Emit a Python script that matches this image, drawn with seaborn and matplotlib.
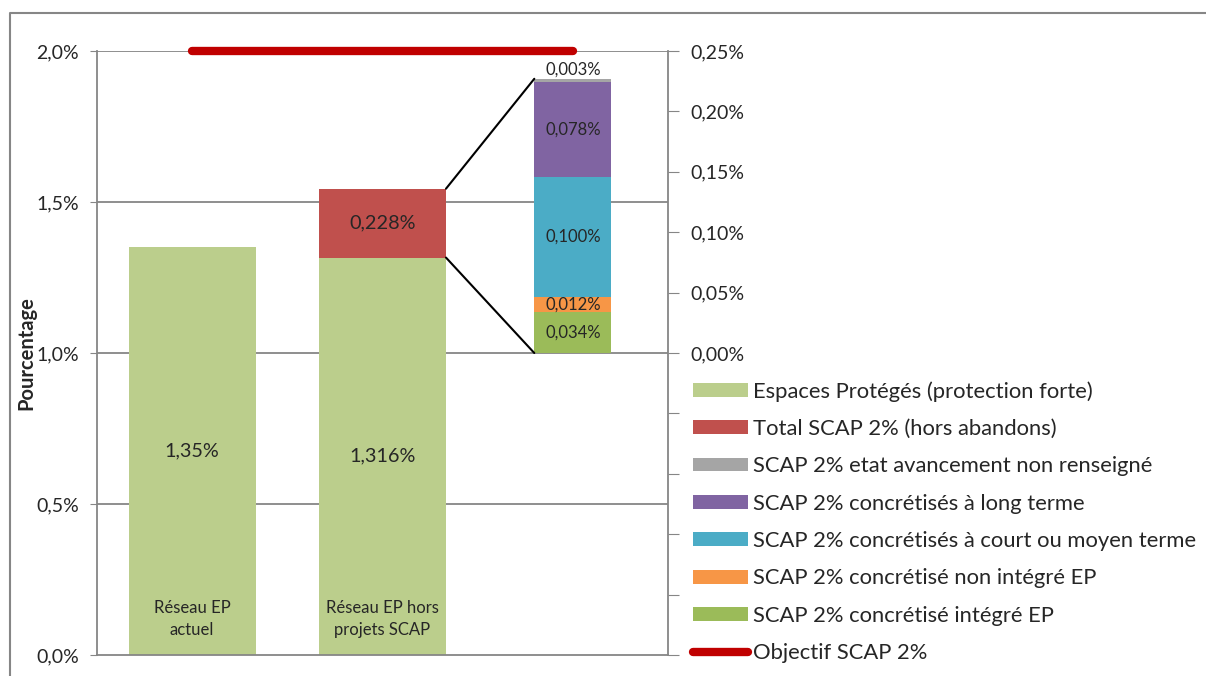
import numpy as np
import pandas as pd
import matplotlib.pyplot as plt
import seaborn as sns
from matplotlib.patches import Patch, ConnectionPatch
from matplotlib.lines import Line2D

sns.set_style('white')
plt.rcParams['font.family'] = ['Lato', 'DejaVu Sans']

# %% Data
categories = ['Réseau EP\nactuel', 'Réseau EP hors\nprojets SCAP', 'Détail SCAP']
ep_values = [1.35, 1.316]              # left axis, %
scap_total = 0.228                     # stacked on bar 2
objectif = [2.0, 2.0, 2.0]

detail_labels = ['SCAP 2% concrétisé intégré EP',
                 'SCAP 2% concrétisé non intégré EP',
                 'SCAP 2% concrétisés à court ou moyen terme',
                 'SCAP 2% concrétisés à long terme',
                 'SCAP 2% etat avancement non renseigné']
detail_values = [0.034, 0.012, 0.100, 0.078, 0.003]   # right axis, %
detail_text = ['0,034%', '0,012%', '0,100%', '0,078%', '0,003%']

c_ep = '#BBCE8C'
c_total = '#C0504D'
c_detail = ['#9BBB59', '#F79646', '#4BACC6', '#8064A2', '#A5A5A5']
c_obj = '#C00000'
grid_c = '#868686'

# %% Figure
fig = plt.figure(figsize=(12.06, 6.76), dpi=100)
ax = fig.add_axes([97 / 1206, 21 / 676, 571 / 1206, 604 / 676])
W = 0.667

df = pd.DataFrame({'cat': categories[:2], 'val': ep_values})
sns.barplot(data=df, x='cat', y='val', order=categories, color=c_ep,
            width=W, saturation=1, linewidth=0, ax=ax, zorder=2)
ax.bar(1, scap_total, bottom=ep_values[1], width=W, color=c_total, lw=0, zorder=2)

ax.plot([0, 1, 2], objectif, color=c_obj, lw=6, solid_capstyle='round',
        clip_on=False, zorder=5)

ax.set_xlim(-0.5, 2.5)
ax.set_ylim(0, 2.0)
ax.set_yticks(np.arange(0, 2.01, 0.5))
ax.set_yticklabels([f'{v:.1f}%'.replace('.', ',') for v in np.arange(0, 2.01, 0.5)])
ax.set_xticks([])
ax.set_xlabel('')
ax.set_ylabel('Pourcentage', fontsize=14.5, fontweight='bold', labelpad=0)
for v in np.arange(0.5, 2.01, 0.5):
    ax.axhline(v, color=grid_c, lw=1.3, zorder=1)
for s in ['top', 'right']:
    ax.spines[s].set_visible(False)
for s in ['left', 'bottom']:
    ax.spines[s].set_color(grid_c)
    ax.spines[s].set_linewidth(1.3)
ax.tick_params(axis='y', direction='out', length=5, color=grid_c, labelsize=14, pad=8)

# value labels
ax.text(0, ep_values[0] / 2, '1,35%', ha='center', va='center', fontsize=14.3)
ax.text(1, ep_values[1] / 2, '1,316%', ha='center', va='center', fontsize=14.3)
ax.text(1, ep_values[1] + scap_total / 2, '0,228%', ha='center', va='center', fontsize=14.3)
for i in range(2):
    ax.text(i, 0.12, categories[i], ha='center', va='center', fontsize=12,
            linespacing=1.45)

# %% Right axis with detail stack
ax2 = ax.twinx()
ax2.set_ylim(-0.25, 0.25)
W3 = 0.405
bottom = 0
for v, c, t in zip(detail_values, c_detail, detail_text):
    ax2.bar(2, v, bottom=bottom, width=W3, color=c, lw=0, zorder=2)
    if t == '0,003%':
        ax2.text(2, bottom + v + 0.001, t, ha='center', va='bottom', fontsize=12)
    else:
        ax2.text(2, bottom + v / 2, t, ha='center', va='center', fontsize=12)
    bottom += v
rticks = np.round(np.arange(-0.25, 0.2501, 0.05), 2)
ax2.set_yticks(rticks)
ax2.set_yticklabels([f'{abs(v):.2f}%'.replace('.', ',') if v > -0.01 else '' for v in rticks])
for s in ['top', 'left', 'bottom']:
    ax2.spines[s].set_visible(False)
ax2.spines['right'].set_color(grid_c)
ax2.spines['right'].set_linewidth(1.3)
ax2.tick_params(axis='y', direction='out', length=8, color=grid_c, labelsize=14, pad=8)

# connector lines between bar 2 and the detail bar
top_total = ep_values[1] + scap_total
for ya, yb in [(top_total, sum(detail_values)), (ep_values[1], 0)]:
    cp = ConnectionPatch(xyA=(1 + W / 2, ya), coordsA=ax.transData,
                         xyB=(2 - W3 / 2, yb), coordsB=ax2.transData,
                         color='black', lw=1.5, zorder=6)
    fig.add_artist(cp)

# %% Legend
handles = [Patch(color=c_ep, lw=0, label='Espaces Protégés (protection forte)'),
           Patch(color=c_total, lw=0, label='Total SCAP 2% (hors abandons)')]
for c, lab in zip(c_detail[::-1], detail_labels[::-1]):
    handles.append(Patch(color=c, lw=0, label=lab))
handles.append(Line2D([], [], color=c_obj, lw=6, solid_capstyle='round',
                      label='Objectif SCAP 2%'))
fig.legend(handles=handles, loc='upper left', bbox_to_anchor=(693 / 1206, 1 - 381 / 676),
           frameon=False, fontsize=15.8, handlelength=2.5, handleheight=0.6,
           handletextpad=0.22, labelspacing=0.79, borderpad=0, borderaxespad=0)

# outer chart frame
fig.add_artist(Line2D([10 / 1206, 10 / 1206, 1.0], [0, 1 - 13 / 676, 1 - 13 / 676],
                      transform=fig.transFigure, color=grid_c, lw=1.5))

fig.savefig('out.png', dpi=100)
